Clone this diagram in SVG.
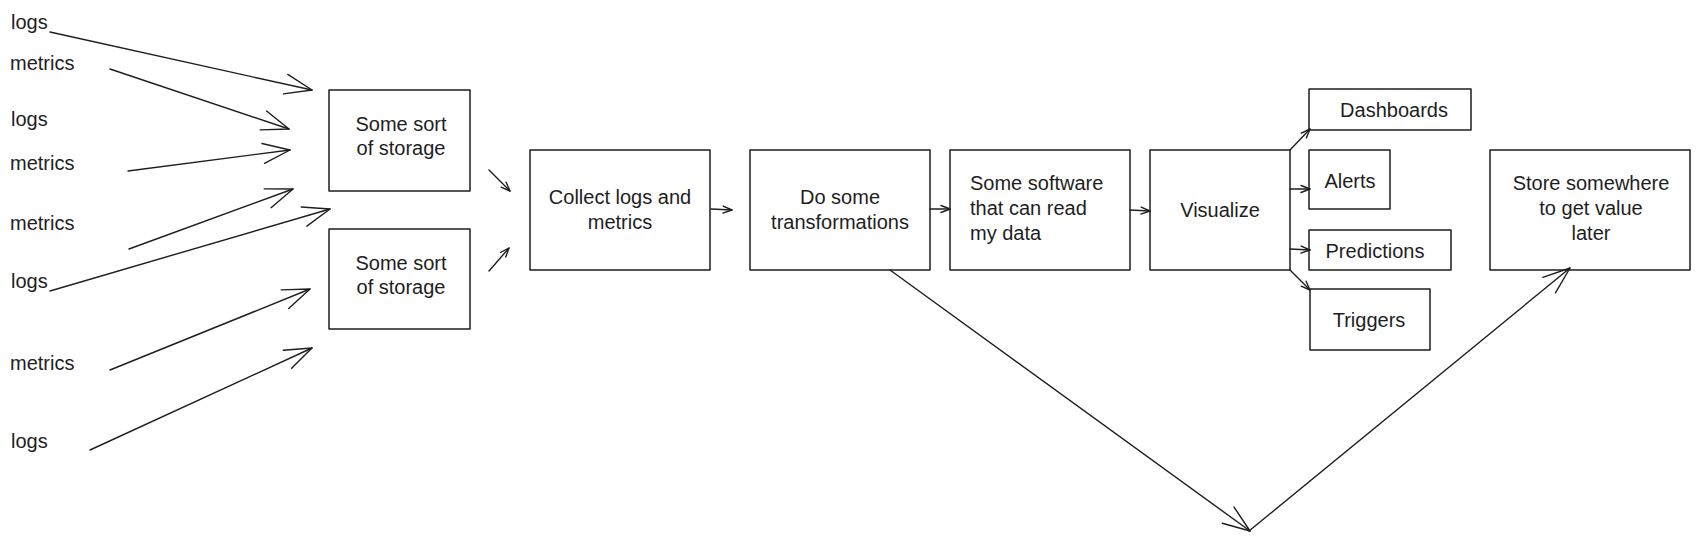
<svg xmlns="http://www.w3.org/2000/svg" width="1700" height="541" viewBox="0 0 1700 541">
<style>
.box{fill:none;stroke:#1e1e1e;stroke-width:1.5;stroke-linejoin:round}
.lbl{font-family:"Liberation Sans",Arial,sans-serif;font-size:20px;fill:#1e1e1e}
.c{text-anchor:middle}
.edge{fill:none;stroke:#1e1e1e;stroke-width:1.4;stroke-linecap:round}
.big{marker-end:url(#headBig)}
.small{marker-end:url(#headSmall)}
</style>
<defs>
<marker id="headBig" markerUnits="userSpaceOnUse" viewBox="-32 -16 36 32" refX="0" refY="0" markerWidth="36" markerHeight="32" orient="auto" overflow="visible">
<path d="M-27,-10 L0,0 L-27,10" fill="none" stroke="#1e1e1e" stroke-width="1.4" stroke-linecap="round" stroke-linejoin="round"/>
</marker>
<marker id="headSmall" markerUnits="userSpaceOnUse" viewBox="-12 -6 14 12" refX="0" refY="0" markerWidth="14" markerHeight="12" orient="auto" overflow="visible">
<path d="M-9,-3.5 L0,0 L-9,3.5" fill="none" stroke="#1e1e1e" stroke-width="1.4" stroke-linecap="round" stroke-linejoin="round"/>
</marker>
</defs>
<rect width="1700" height="541" fill="#ffffff"/>

<g id="src-logs-1"><text class="lbl" x="11" y="29">logs</text></g>
<g id="src-metrics-1"><text class="lbl" x="10" y="70">metrics</text></g>
<g id="src-logs-2"><text class="lbl" x="11" y="126">logs</text></g>
<g id="src-metrics-2"><text class="lbl" x="10" y="170">metrics</text></g>
<g id="src-metrics-3"><text class="lbl" x="10" y="230">metrics</text></g>
<g id="src-logs-3"><text class="lbl" x="11" y="288">logs</text></g>
<g id="src-metrics-4"><text class="lbl" x="10" y="370">metrics</text></g>
<g id="src-logs-4"><text class="lbl" x="11" y="448">logs</text></g>

<g id="storage-1">
<rect class="box" x="329" y="90" width="141" height="101"/>
<text class="lbl c" x="401" y="131">Some sort</text>
<text class="lbl c" x="401" y="155">of storage</text>
</g>
<g id="storage-2">
<rect class="box" x="329" y="229" width="141" height="100"/>
<text class="lbl c" x="401" y="270">Some sort</text>
<text class="lbl c" x="401" y="294">of storage</text>
</g>
<g id="collect">
<rect class="box" x="530" y="150" width="180" height="120"/>
<text class="lbl c" x="620" y="204">Collect logs and</text>
<text class="lbl c" x="620" y="229">metrics</text>
</g>
<g id="transform">
<rect class="box" x="750" y="150" width="180" height="120"/>
<text class="lbl c" x="840" y="204">Do some</text>
<text class="lbl c" x="840" y="229">transformations</text>
</g>
<g id="software">
<rect class="box" x="950" y="150" width="180" height="120"/>
<text class="lbl" x="970" y="190">Some software</text>
<text class="lbl" x="970" y="215">that can read</text>
<text class="lbl" x="970" y="240">my data</text>
</g>
<g id="visualize">
<rect class="box" x="1150" y="150" width="140" height="120"/>
<text class="lbl c" x="1220" y="217">Visualize</text>
</g>
<g id="dashboards">
<rect class="box" x="1309" y="89" width="162" height="41"/>
<text class="lbl c" x="1394" y="117">Dashboards</text>
</g>
<g id="alerts">
<rect class="box" x="1309" y="150" width="81" height="59"/>
<text class="lbl c" x="1350" y="188">Alerts</text>
</g>
<g id="predictions">
<rect class="box" x="1309" y="230" width="142" height="40"/>
<text class="lbl c" x="1375" y="258">Predictions</text>
</g>
<g id="triggers">
<rect class="box" x="1310" y="289" width="120" height="61"/>
<text class="lbl c" x="1369" y="327">Triggers</text>
</g>
<g id="store">
<rect class="box" x="1490" y="150" width="200" height="120"/>
<text class="lbl c" x="1591" y="190">Store somewhere</text>
<text class="lbl c" x="1591" y="215">to get value</text>
<text class="lbl c" x="1591" y="240">later</text>
</g>

<g id="connectors">
<path class="edge big" d="M50,32 L312,90"/>
<path class="edge big" d="M110,69 L289,129"/>
<path class="edge big" d="M128,171 L290,150"/>
<path class="edge big" d="M129,249 L293,189"/>
<path class="edge big" d="M50,291 L330,209"/>
<path class="edge big" d="M110,370 L310,289"/>
<path class="edge big" d="M90,450 L312,348"/>
<path class="edge small" d="M489,170 L510,191"/>
<path class="edge small" d="M489,271 L509,248"/>
<path class="edge small" d="M711,209 L732,210"/>
<path class="edge small" d="M930,209 L950,209"/>
<path class="edge small" d="M1130,210 L1150,211"/>
<path class="edge small" d="M1290,150 L1310,129"/>
<path class="edge small" d="M1290,189 L1310,189"/>
<path class="edge small" d="M1290,249 L1310,250"/>
<path class="edge small" d="M1290,270 L1310,290"/>
<path class="edge big" d="M890,270 L1250,531"/>
<path class="edge big" d="M1249,531 L1570,268"/>
</g>
</svg>
